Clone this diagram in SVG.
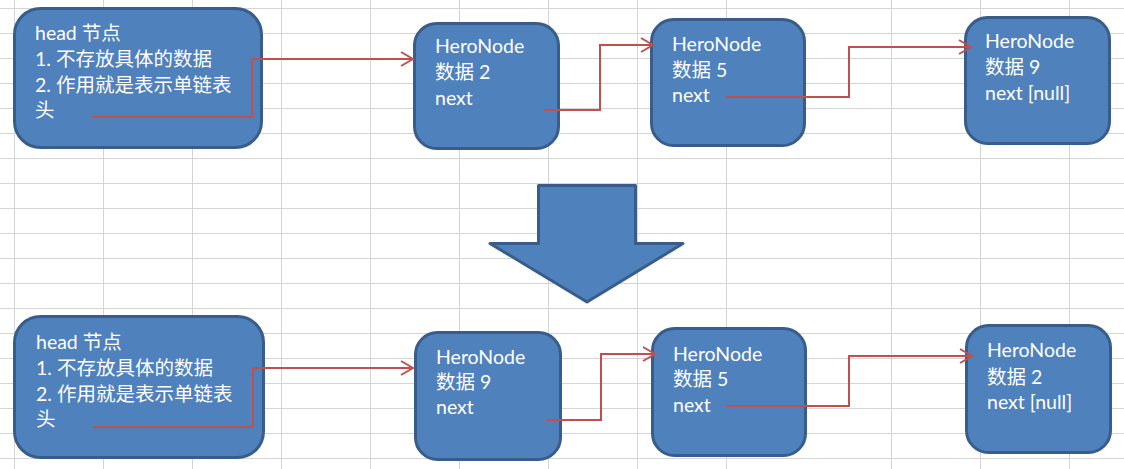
<svg xmlns="http://www.w3.org/2000/svg" width="1124" height="469" viewBox="0 0 1124 469">
<style>
.grid line{stroke:#d4d4d4;stroke-width:1}
.node rect,.bigarrow{fill:#4f81bd;stroke:#385d8a;stroke-width:3}
.node text{fill:#ffffff;font-family:Lato,"Noto Sans CJK SC",sans-serif;font-size:19.5px}
.conn path{fill:none;stroke:#c0504d;stroke-width:2;marker-end:url(#arr)}
</style>
<defs>
<marker id="arr" markerUnits="userSpaceOnUse" markerWidth="16" markerHeight="18" refX="13" refY="8" orient="auto">
<path d="M1,1 L13,8 L1,15" fill="none" stroke="#c0504d" stroke-width="2"/>
</marker>
</defs>
<rect width="1124" height="469" fill="#ffffff"/>
<g class="grid">
<line x1="0" y1="8.5" x2="1124" y2="8.5"/><line x1="0" y1="33.5" x2="1124" y2="33.5"/><line x1="0" y1="58.5" x2="1124" y2="58.5"/><line x1="0" y1="83.5" x2="1124" y2="83.5"/><line x1="0" y1="108.5" x2="1124" y2="108.5"/><line x1="0" y1="133.5" x2="1124" y2="133.5"/><line x1="0" y1="158.5" x2="1124" y2="158.5"/><line x1="0" y1="183.5" x2="1124" y2="183.5"/><line x1="0" y1="208.5" x2="1124" y2="208.5"/><line x1="0" y1="233.5" x2="1124" y2="233.5"/><line x1="0" y1="258.5" x2="1124" y2="258.5"/><line x1="0" y1="283.5" x2="1124" y2="283.5"/><line x1="0" y1="308.5" x2="1124" y2="308.5"/><line x1="0" y1="333.5" x2="1124" y2="333.5"/><line x1="0" y1="358.5" x2="1124" y2="358.5"/><line x1="0" y1="383.5" x2="1124" y2="383.5"/><line x1="0" y1="408.5" x2="1124" y2="408.5"/><line x1="0" y1="433.5" x2="1124" y2="433.5"/><line x1="0" y1="458.5" x2="1124" y2="458.5"/>
<line x1="14.5" y1="0" x2="14.5" y2="469"/><line x1="103.5" y1="0" x2="103.5" y2="469"/><line x1="192.5" y1="0" x2="192.5" y2="469"/><line x1="281.5" y1="0" x2="281.5" y2="469"/><line x1="370.5" y1="0" x2="370.5" y2="469"/><line x1="459.5" y1="0" x2="459.5" y2="469"/><line x1="548.5" y1="0" x2="548.5" y2="469"/><line x1="637.5" y1="0" x2="637.5" y2="469"/><line x1="726.5" y1="0" x2="726.5" y2="469"/><line x1="891.5" y1="0" x2="891.5" y2="469"/><line x1="980.5" y1="0" x2="980.5" y2="469"/><line x1="1069.5" y1="0" x2="1069.5" y2="469"/>
</g>

<g id="head-top" class="node">
<rect x="14.5" y="8.5" width="247" height="139" rx="26" ry="26"/>
<text x="35" y="40">head 节点</text>
<text x="35" y="66">1. 不存放具体的数据</text>
<text x="35" y="92">2. 作用就是表示单链表</text>
<text x="35" y="117">头</text>
</g>
<g id="node2-top" class="node">
<rect x="414.5" y="23.5" width="144" height="125" rx="22" ry="22"/>
<text x="435" y="53">HeroNode</text>
<text x="435" y="79">数据 2</text>
<text x="435" y="105">next</text>
</g>
<g id="node5-top" class="node">
<rect x="651.5" y="19.5" width="153" height="126" rx="22" ry="22"/>
<text x="672" y="51">HeroNode</text>
<text x="672" y="77">数据 5</text>
<text x="672" y="102">next</text>
</g>
<g id="node9-top" class="node">
<rect x="965.5" y="17.5" width="144" height="126" rx="22" ry="22"/>
<text x="985" y="48">HeroNode</text>
<text x="985" y="74">数据 9</text>
<text x="985" y="100">next [null]</text>
</g>

<path id="down-arrow" class="bigarrow" d="M538.5,185.5 L635.5,185.5 L635.5,243.5 L683,243.5 L587,302 L490,243.5 L538.5,243.5 Z" stroke-linejoin="round"/>

<g id="head-bottom" class="node">
<rect x="14.5" y="316.5" width="249" height="141" rx="26" ry="26"/>
<text x="36" y="349">head 节点</text>
<text x="36" y="375">1. 不存放具体的数据</text>
<text x="36" y="401">2. 作用就是表示单链表</text>
<text x="36" y="426">头</text>
</g>
<g id="node9-bottom" class="node">
<rect x="415.5" y="332.5" width="145" height="127" rx="22" ry="22"/>
<text x="436" y="364">HeroNode</text>
<text x="436" y="389">数据 9</text>
<text x="436" y="414">next</text>
</g>
<g id="node5-bottom" class="node">
<rect x="652.5" y="328.5" width="153" height="127" rx="22" ry="22"/>
<text x="673" y="361">HeroNode</text>
<text x="673" y="386">数据 5</text>
<text x="673" y="412">next</text>
</g>
<g id="node2-bottom" class="node">
<rect x="966.5" y="325.5" width="144" height="127" rx="22" ry="22"/>
<text x="987" y="357">HeroNode</text>
<text x="987" y="384">数据 2</text>
<text x="987" y="409">next [null]</text>
</g>

<g id="connectors" class="conn">
<path d="M92,117 L252,117 L252,59 L413,59"/>
<path d="M544,110 L600,110 L600,45 L653,45"/>
<path d="M726,97 L849,97 L849,47 L971,47"/>
<path d="M93,427 L253,427 L253,368 L413,368"/>
<path d="M546,420 L601,420 L601,354 L655,354"/>
<path d="M726,406 L849,406 L849,356 L972,356"/>
</g>
</svg>
